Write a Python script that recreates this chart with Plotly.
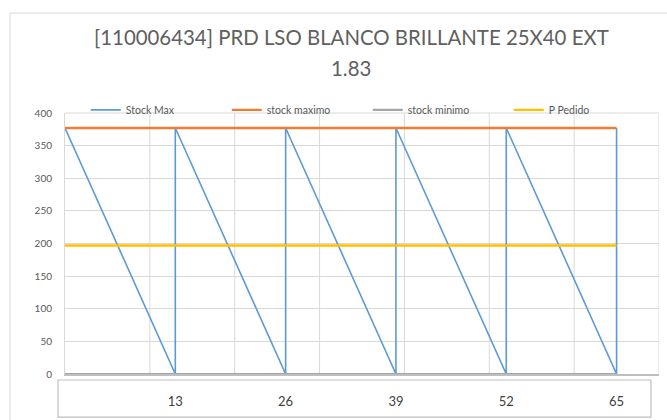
import plotly.graph_objects as go

# ---- data ----
title_line1 = "[110006434] PRD LSO BLANCO BRILLANTE 25X40 EXT"
title_line2 = "1.83"
stock_x = [0, 13, 13, 26, 26, 39, 39, 52, 52, 65, 65]
stock_y = [377, 0, 377, 0, 377, 0, 377, 0, 377, 0, 377]
ref_x = [0, 65]
stock_maximo = [377, 377]
stock_minimo = [0, 0]
p_pedido = [197, 197]
x_ticks = [13, 26, 39, 52, 65]
y_ticks = [0, 50, 100, 150, 200, 250, 300, 350, 400]

FONT = "Lato"
GRAY = "#595959"

fig = go.Figure()
fig.add_trace(go.Scatter(x=stock_x, y=stock_y, mode="lines", name="Stock Max",
                         line=dict(color="#5B9BD5", width=1.6)))
fig.add_trace(go.Scatter(x=ref_x, y=stock_maximo, mode="lines", name="stock maximo",
                         line=dict(color="#ED7D31", width=2.4)))
fig.add_trace(go.Scatter(x=ref_x, y=stock_minimo, mode="lines", name="stock minimo",
                         line=dict(color="#A5A5A5", width=2.2)))
fig.add_trace(go.Scatter(x=ref_x, y=p_pedido, mode="lines", name="P Pedido",
                         line=dict(color="#FFC000", width=2.4)))

fig.update_layout(
    width=667, height=420,
    margin=dict(l=65, r=8, t=113, b=46),
    paper_bgcolor="white", plot_bgcolor="white",
    font=dict(family=FONT, color=GRAY),
    showlegend=True,
    legend=dict(orientation="h", x=0.035, xanchor="left", y=1.012, yanchor="middle",
                font=dict(size=10.5, color=GRAY), bgcolor="rgba(0,0,0,0)",
                entrywidth=96, itemwidth=30, tracegroupgap=0),
    xaxis=dict(range=[0, 70], showgrid=False,
               tickmode="array", tickvals=x_ticks,
               ticktext=[str(v) for v in x_ticks],
               zeroline=False, showline=True, linecolor="#BFBFBF", linewidth=1.5,
               mirror=False, ticks="", ticklabelstandoff=15,
               tickfont=dict(size=13, color="#404040", family=FONT),
               fixedrange=True),
    yaxis=dict(range=[0, 400], tickvals=y_ticks, showgrid=True, gridcolor="#D9D9D9",
               gridwidth=1, zeroline=False, showline=True, linecolor="#D9D9D9",
               linewidth=1, ticks="", ticklabelstandoff=10,
               tickfont=dict(size=10, color=GRAY, family=FONT), fixedrange=True),
)

# vertical gridlines every 10 units (drawn as shapes since tickvals are the labels)
shapes = []
for gx in range(10, 71, 10):
    shapes.append(dict(type="line", xref="x", yref="paper", x0=gx, x1=gx, y0=0, y1=1,
                       line=dict(color="#D9D9D9", width=1), layer="between"))
# top border of plot
shapes.append(dict(type="line", xref="paper", yref="paper", x0=0, x1=1, y0=1, y1=1,
                   line=dict(color="#D9D9D9", width=1), layer="between"))
# label box under the axis
shapes.append(dict(type="rect", xref="paper", yref="paper", x0=-0.0118, x1=0.9865,
                   y0=-0.165, y1=-0.023, line=dict(color="#BFBFBF", width=1.2)))
# outer chart border
shapes.append(dict(type="rect", xref="paper", yref="paper", x0=-0.0926, x1=1.2,
                   y0=-0.5, y1=1.383, line=dict(color="#D9D9D9", width=1)))
fig.update_layout(shapes=shapes)

fig.add_annotation(text=title_line1, xref="paper", yref="paper", x=0.482, y=1.291,
                   showarrow=False, font=dict(size=20.4, color="#606060", family=FONT),
                   xanchor="center", yanchor="middle")
fig.add_annotation(text=title_line2, xref="paper", yref="paper", x=0.482, y=1.172,
                   showarrow=False, font=dict(size=20.4, color="#606060", family=FONT),
                   xanchor="center", yanchor="middle")

fig.write_html("out.html")
